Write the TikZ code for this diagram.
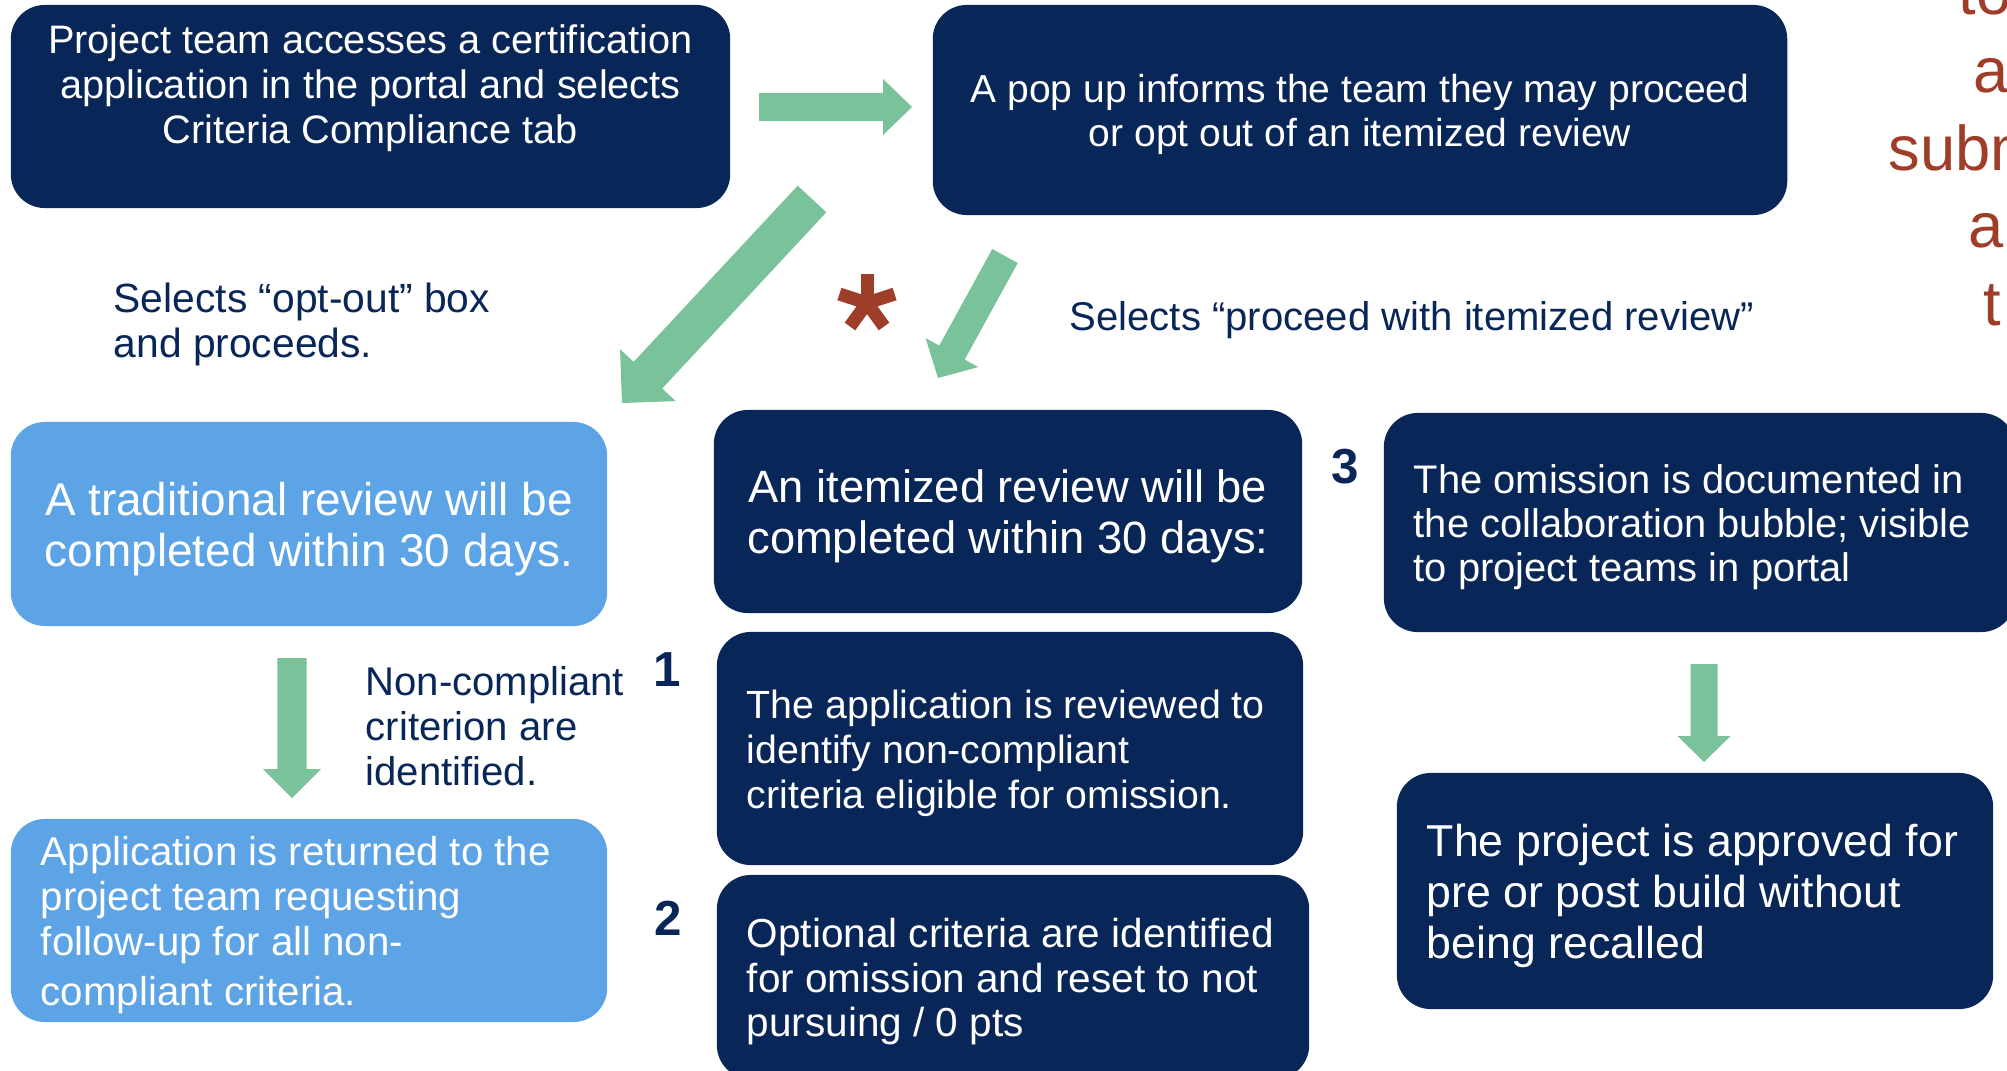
\documentclass[tikz,border=0pt]{standalone}
\usepackage{fontspec}
\setmainfont{Liberation Sans}
\usetikzlibrary{calc}

\definecolor{cNavy}{RGB}{8,38,87}
\definecolor{cSky}{RGB}{92,164,230}
\definecolor{cArrow}{RGB}{122,194,154}
\definecolor{cRust}{RGB}{158,62,40}

\newcommand{\boxstrut}{\rule{0pt}{0.95em}}

\begin{document}
\begin{tikzpicture}[x=0.01cm, y=-0.01cm,
  navybox/.style={rectangle, rounded corners=0.34cm, fill=cNavy, text=white, inner ysep=0pt, inner xsep=0.3cm},
  skybox/.style={navybox, fill=cSky},
  note/.style={text=cNavy, align=flush left, inner sep=0pt, text depth=0pt, font=\fontsize{11.4}{12.8}\selectfont},
  stepnum/.style={text=cNavy, inner sep=0pt, font=\fontsize{14}{16}\selectfont\bfseries},
  sidetxt/.style={text=cRust, inner sep=0pt, font=\fontsize{18}{21}\selectfont}]

% ── Page frame ──
\useasboundingbox (0,0) rectangle (2007,1070);
\clip (0,0) rectangle (2007,1070);
\fill[white] (0,0) rectangle (2007,1070);

% ── Top row ──
\node[navybox, text width=6.59cm, minimum height=2.03cm, align=flush center,
      font=\fontsize{11.3}{12.8}\selectfont] (access) at (370.5,106.5)
      {Project team accesses a certification\\application in the portal and selects\\Criteria Compliance tab\\\mbox{}};
\node[navybox, text width=7.94cm, minimum height=2.10cm, align=flush center,
      font=\fontsize{11.1}{12.5}\selectfont] (popup) at (1360,110)
      {\boxstrut A pop up informs the team they may proceed\\or opt out of an itemized review};

% ── Choice labels ──
\node[note, anchor=west, font=\fontsize{11.6}{12.8}\selectfont] (optout) at (113,320.5) {Selects “opt-out” box\\and proceeds.};
\node[note, anchor=west] (proceed) at (1069,316) {Selects “proceed with itemized review”};

% ── Traditional branch (light blue) ──
\node[skybox, text width=5.36cm, minimum height=2.04cm, align=flush center,
      font=\fontsize{13.05}{14.5}\selectfont] (trad) at (309,524)
      {\boxstrut A traditional review will be\\completed within 30 days.};
\node[note, anchor=west] (noncomp) at (365,726) {Non-compliant\\criterion are\\identified.};
\node[skybox, text width=5.36cm, minimum height=2.03cm, align=flush left,
      font=\fontsize{11.44}{12.8}\selectfont] (returned) at (309,920.5)
      {\boxstrut Application is returned to the\\project team requesting\\follow-up for all non-\\[1.2pt]compliant criteria.};

% ── Itemized branch (navy) ──
\node[navybox, text width=5.28cm, minimum height=2.03cm, align=flush center,
      font=\fontsize{12.88}{14.5}\selectfont] (itemized) at (1008,511.5)
      {\boxstrut An itemized review will be\\completed within 30 days:};
\node[navybox, text width=5.26cm, minimum height=2.33cm, align=flush left,
      font=\fontsize{11.18}{12.8}\selectfont] (reviewed) at (1010,748.5)
      {\boxstrut The application is reviewed to\\identify non-compliant\\criteria eligible for omission.};
\node[navybox, text width=5.32cm, minimum height=2.04cm, align=flush left,
      font=\fontsize{11.52}{12.7}\selectfont] (optional) at (1013,977)
      {\boxstrut Optional criteria are identified\\for omission and reset to not\\pursuing / 0 pts};
\node[navybox, text width=5.71cm, minimum height=2.19cm, align=flush left,
      font=\fontsize{11.35}{12.5}\selectfont] (omission) at (1699.5,522.5)
      {\boxstrut The omission is documented in\\the collaboration bubble; visible\\to project teams in portal};
\node[navybox, text width=5.36cm, minimum height=2.36cm, align=flush left,
      font=\fontsize{12.7}{14.4}\selectfont] (approved) at (1695,891)
      {\boxstrut The project is approved for\\pre or post build without\\being recalled};

% ── Step numbers ──
\node[stepnum] (num1) at (667,670) {1};
\node[stepnum] (num2) at (668,918) {2};
\node[stepnum] (num3) at (1345,467) {3};

% ── Block arrows ──
\foreach \n/\tx/\ty/\hx/\hy/\sw/\hw/\hl in {
    toPopup/759/107/912/107/28/56/29,
    toTrad/812/199/622/403/39/76/38,
    toItem/1005/256/938/378/29/60/29,
    toReturn/292/658/292/798/29/58/29,
    toApprove/1704/664/1704/762/27/53/26}
{
  \coordinate (\n-tail) at (\tx,\ty);
  \coordinate (\n-tip) at (\hx,\hy);
  \pgfmathsetmacro{\sh}{\sw*0.005}
  \pgfmathsetmacro{\hh}{\hw*0.005}
  \pgfmathsetmacro{\hd}{\hl*0.01}
  \coordinate (\n-base) at ($(\n-tip)!\hd cm!(\n-tail)$);
  \fill[cArrow] ($(\n-tail)!\sh cm!90:(\n-tip)$) -- ($(\n-base)!\sh cm!90:(\n-tip)$)
      -- ($(\n-base)!\hh cm!90:(\n-tip)$) -- (\n-tip) -- ($(\n-base)!\hh cm!-90:(\n-tip)$)
      -- ($(\n-base)!\sh cm!-90:(\n-tip)$) -- ($(\n-tail)!\sh cm!-90:(\n-tip)$) -- cycle;
}

% ── Asterisk ──
\coordinate (star) at (867,303);
\foreach \a in {-90,-18,-162,126,54}
  \draw[cRust, line width=3.7pt] (star) -- ++(\a:29);

% ── Cut-off side note ──
\foreach \i/\xx/\yy/\tt in {1/1958/15/to, 2/1973/93/a, 3/1888/170/subm, 4/1968/247/an, 5/1983/325/t}
  \node[sidetxt, anchor=base west] (side\i) at (\xx,\yy) {\tt};

\end{tikzpicture}
\end{document}
